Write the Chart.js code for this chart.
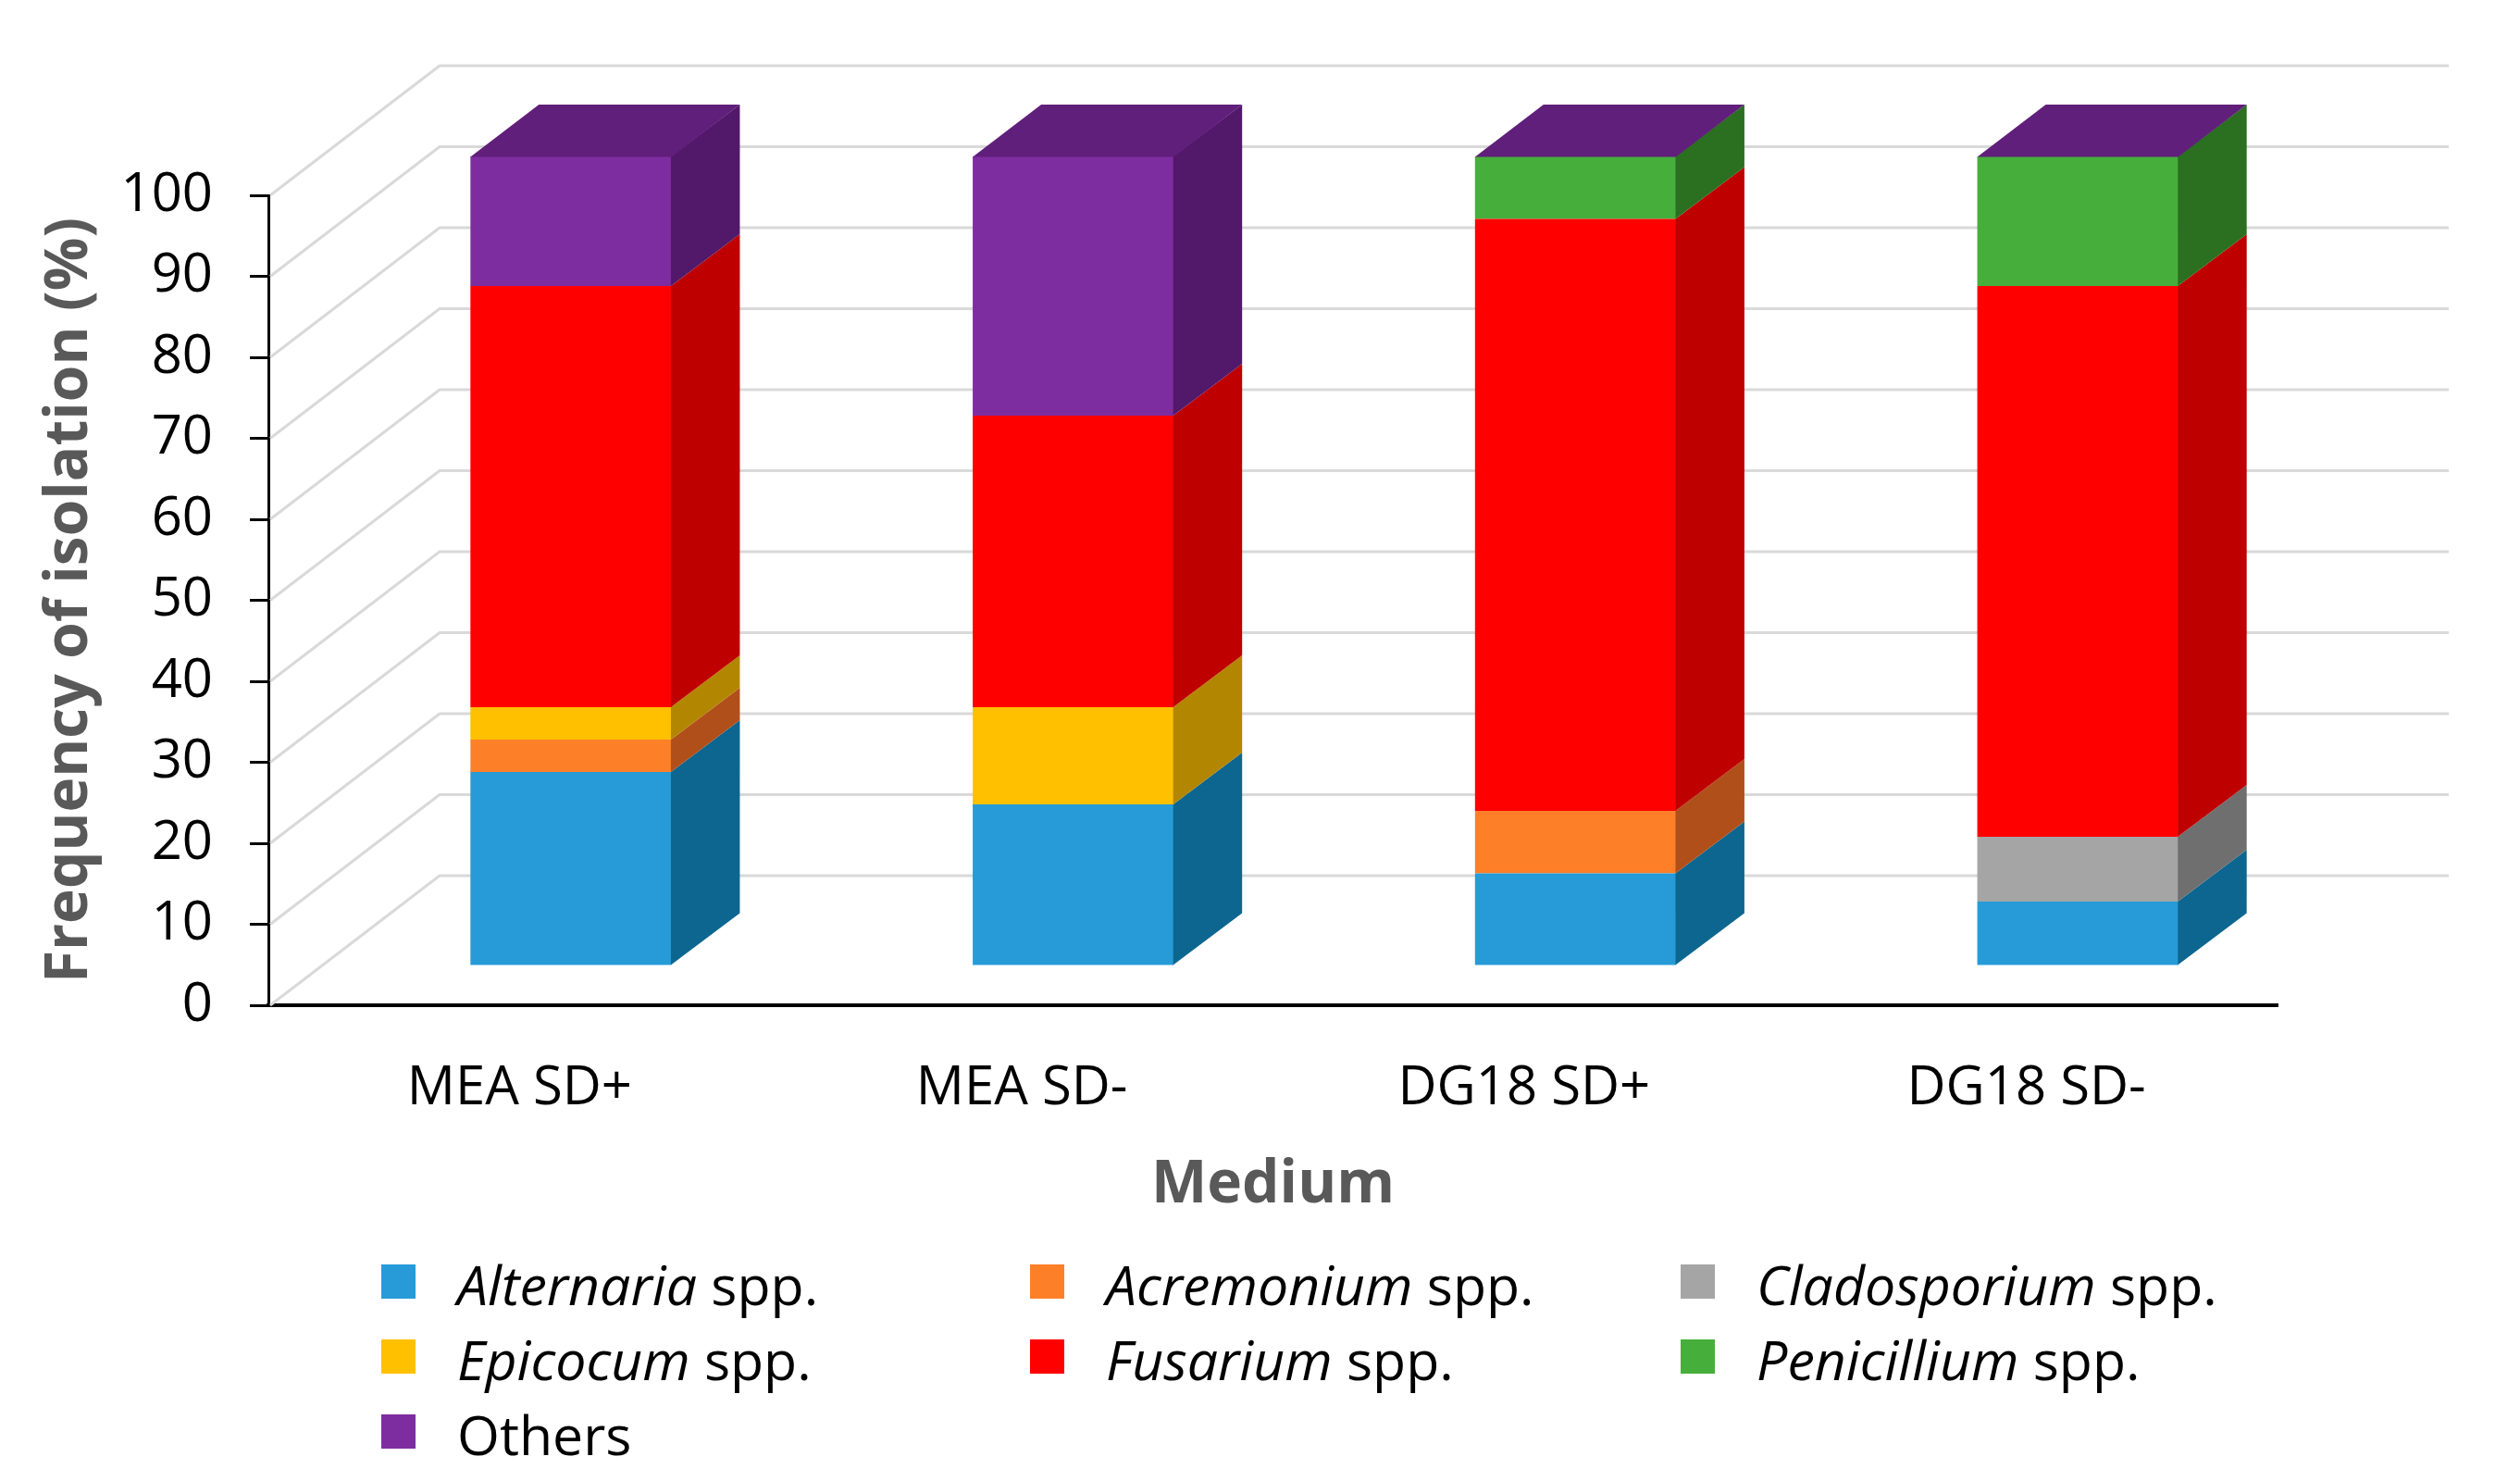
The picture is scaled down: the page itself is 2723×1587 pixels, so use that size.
<!DOCTYPE html>
<html>
<head>
<meta charset="utf-8">
<title>Frequency of isolation by medium</title>
<script src="https://cdn.jsdelivr.net/npm/chart.js@4.4.1/dist/chart.umd.min.js"></script>
<style>
  html, body { margin: 0; padding: 0; background: #fff; }
  #wrap { position: relative; width: 2723px; height: 1587px; }
  #legend {
    position: absolute; left: 412px; top: 1366px;
    display: grid; grid-template-columns: 701px 703px auto; grid-auto-rows: 81px;
    font-family: 'Open Sans', sans-serif; font-size: 59px; color: #000;
  }
  .item { display: flex; align-items: flex-start; }
  .box { width: 37px; height: 37px; margin-right: 45px; flex: none; }
  .item span { white-space: nowrap; line-height: 59px; margin-top: -8px; }
</style>
</head>
<body>
<div id="wrap">
  <canvas id="isolationChart"></canvas>
  <div id="legend"></div>
</div>
<script>
const categories = ['MEA SD+', 'MEA SD-', 'DG18 SD+', 'DG18 SD-'];
const taxa = ['Alternaria spp.', 'Acremonium spp.', 'Cladosporium spp.', 'Epicocum spp.',
              'Fusarium spp.', 'Penicillium spp.', 'Others'];

// frequency of isolation (%) per medium
const alternaria   = [24, 20, 11.5, 8];
const acremonium   = [4, 0, 7.7, 0];
const cladosporium = [0, 0, 0, 8];
const epicocum     = [4, 12, 0, 0];
const fusarium     = [52, 36, 73.1, 68];
const penicillium  = [0, 0, 7.7, 16];
const others       = [16, 32, 0, 0];

const yTicks = [0, 10, 20, 30, 40, 50, 60, 70, 80, 90, 100];

const series = [alternaria, acremonium, cladosporium, epicocum, fusarium, penicillium, others];
const faceColors = ['#269BD8', '#FD7F28', '#A5A5A5', '#FFC000', '#FF0000', '#46AE3B', '#7E2DA1'];
const sideColors = ['#0C6690', '#B14F1A', '#6F6F6F', '#B38600', '#BE0000', '#2B6F21', '#521869'];
const topColor = '#601F7A';

// 3d look: depth of the side wall and where the columns sit inside it
const wallDx = 185, wallDy = -140;
const barFront = 0.3, barBack = 0.7;

const box3d = {
  id: 'box3d',
  beforeDatasetsDraw(chart) {
    const { ctx, scales: { x, y } } = chart;
    ctx.save();
    ctx.strokeStyle = '#D9D9D9';
    ctx.lineWidth = 3;
    y.ticks.forEach(t => {
      const py = y.getPixelForValue(t.value);
      ctx.beginPath();
      ctx.moveTo(x.left + 2, py);
      ctx.lineTo(x.left + wallDx, py + wallDy);
      ctx.lineTo(x.right + wallDx, py + wallDy);
      ctx.stroke();
    });
    ctx.restore();
    // push the front faces into the depth
    ctx.save();
    ctx.translate(wallDx * barFront, wallDy * barFront);
  },
  afterDatasetsDraw(chart) {
    const ctx = chart.ctx;
    const dx = wallDx * (barBack - barFront), dy = wallDy * (barBack - barFront);
    const last = chart.data.datasets.length - 1;
    chart.data.datasets.forEach((ds, i) => {
      chart.getDatasetMeta(i).data.forEach(bar => {
        const { x, y, base, width } = bar.getProps(['x', 'y', 'base', 'width'], true);
        const l = x - width / 2, r = x + width / 2;
        if (base - y > 0.1) {
          ctx.fillStyle = sideColors[i];
          ctx.beginPath();
          ctx.moveTo(r - 0.5, y);
          ctx.lineTo(r + dx, y + dy);
          ctx.lineTo(r + dx, base + dy);
          ctx.lineTo(r - 0.5, base);
          ctx.closePath();
          ctx.fill();
        }
        if (i === last) {
          ctx.fillStyle = topColor;
          ctx.beginPath();
          ctx.moveTo(l, y + 0.5);
          ctx.lineTo(l + dx, y + dy);
          ctx.lineTo(r + dx, y + dy);
          ctx.lineTo(r, y + 0.5);
          ctx.closePath();
          ctx.fill();
        }
      });
    });
    ctx.restore();
  }
};

const axisFont = { family: 'Open Sans', size: 58 };
const titleFont = { family: 'Open Sans', size: 64, weight: 'bold' };

new Chart(document.getElementById('isolationChart'), {
  type: 'bar',
  data: {
    labels: categories,
    datasets: series.map((values, i) => ({
      label: taxa[i],
      data: values,
      backgroundColor: faceColors[i],
      borderWidth: 0,
      barPercentage: 0.4,
      categoryPercentage: 1.0,
      clip: false
    }))
  },
  options: {
    responsive: true,
    maintainAspectRatio: false,
    devicePixelRatio: 1,
    animation: false,
    layout: { padding: { top: 211, right: 262, bottom: 268, left: 0 } },
    plugins: { legend: { display: false }, tooltip: { enabled: false } },
    scales: {
      x: {
        stacked: true,
        grid: { display: false, drawTicks: false },
        border: { display: true, color: '#000', width: 4 },
        ticks: { font: axisFont, color: '#000', padding: 56, maxRotation: 0 },
        title: { display: true, text: 'Medium', font: titleFont, color: '#595959', padding: 0 },
        afterFit(scale) { scale.height = 233; }
      },
      y: {
        stacked: true,
        min: yTicks[0],
        max: yTicks[yTicks.length - 1],
        ticks: { stepSize: yTicks[1] - yTicks[0], font: axisFont, color: '#000', padding: 40 },
        grid: { drawOnChartArea: false, drawTicks: true, tickLength: 20, color: '#000', lineWidth: 3 },
        border: { display: true, color: '#000', width: 3 },
        title: {
          display: true, text: 'Frequency of isolation (%)', font: titleFont, color: '#595959',
          padding: { top: 37, bottom: 0 }
        },
        afterFit(scale) { scale.width = 290; }
      }
    }
  },
  plugins: [box3d]
});

// legend: genus names in italics, "spp." upright
const legend = document.getElementById('legend');
taxa.forEach((name, i) => {
  const item = document.createElement('div');
  item.className = 'item';
  const box = document.createElement('div');
  box.className = 'box';
  box.style.background = faceColors[i];
  const text = document.createElement('span');
  if (name.endsWith(' spp.')) {
    const genus = document.createElement('i');
    genus.textContent = name.slice(0, -5);
    text.appendChild(genus);
    text.appendChild(document.createTextNode(' spp.'));
  } else {
    text.textContent = name;
  }
  item.appendChild(box);
  item.appendChild(text);
  legend.appendChild(item);
});
</script>
</body>
</html>
